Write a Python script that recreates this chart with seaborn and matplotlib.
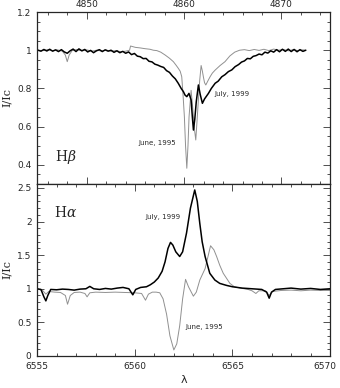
import numpy as np
import pandas as pd
import matplotlib
matplotlib.use("Agg")
import matplotlib.pyplot as plt
import matplotlib.transforms as mtransforms
from matplotlib.ticker import MultipleLocator, FixedLocator, FixedFormatter
import seaborn as sns

sns.set_style("ticks")
plt.rcParams['font.family'] = ['DejaVu Sans']
plt.rcParams['mathtext.fontset'] = 'dejavuserif'

#%% H-beta, July 1999 (black)
hb_wl_jul = [4845.0, 4845.3, 4845.6, 4845.9, 4846.2, 4846.5, 4846.8, 4847.1, 4847.4, 4847.7,
             4848.0, 4848.3, 4848.6, 4848.9, 4849.2, 4849.5, 4849.8, 4850.1, 4850.4, 4850.7,
             4851.0, 4851.3, 4851.6, 4851.9, 4852.2, 4852.5, 4852.8, 4853.1, 4853.4, 4853.7,
             4854.0, 4854.3, 4854.6, 4854.9, 4855.2, 4855.5, 4855.8, 4856.1, 4856.4, 4856.7,
             4857.0, 4857.3, 4857.6, 4857.9, 4858.2, 4858.5, 4858.8, 4859.1, 4859.4, 4859.7,
             4859.93, 4860.1, 4860.28, 4860.5, 4860.72, 4860.85, 4860.96, 4861.1, 4861.25, 4861.47,
             4861.65, 4861.88, 4862.1, 4862.5, 4862.8, 4863.19, 4863.5, 4863.87, 4864.2, 4864.55,
             4864.9, 4865.24, 4865.6, 4865.9, 4866.2, 4866.5, 4866.8, 4867.1, 4867.4, 4867.7,
             4868.0, 4868.3, 4868.6, 4868.9, 4869.2, 4869.5, 4869.8, 4870.1, 4870.4, 4870.7,
             4871.0, 4871.3, 4871.6, 4871.9, 4872.2, 4872.5]
hb_fl_jul = [1.000, 0.995, 1.004, 0.996, 1.005, 0.995, 1.002, 0.993, 1.003, 0.991,
             0.984, 0.997, 1.006, 0.993, 1.007, 0.997, 1.004, 0.991, 0.999, 0.987,
             0.997, 1.003, 0.993, 1.002, 0.995, 1.000, 0.989, 0.997, 0.987, 0.994,
             0.984, 0.991, 0.977, 0.983, 0.969, 0.966, 0.956, 0.957, 0.942, 0.939,
             0.927, 0.922, 0.915, 0.910, 0.893, 0.884, 0.865, 0.850, 0.827, 0.800,
             0.783, 0.765, 0.757, 0.774, 0.740, 0.650, 0.582, 0.640, 0.730, 0.818,
             0.770, 0.722, 0.745, 0.774, 0.800, 0.827, 0.838, 0.861, 0.872, 0.888,
             0.897, 0.914, 0.925, 0.938, 0.944, 0.957, 0.955, 0.968, 0.972, 0.980,
             0.976, 0.990, 0.985, 0.997, 0.990, 1.003, 0.992, 1.005, 0.994, 1.006,
             0.993, 1.004, 0.992, 1.003, 0.994, 1.000]

#%% H-beta, June 1995 (grey)
hb_wl_jun = [4845.0, 4845.5, 4846.0, 4846.5, 4847.0, 4847.5, 4847.8, 4848.0, 4848.2, 4848.5,
             4849.0, 4849.5, 4850.0, 4850.5, 4851.0, 4851.5, 4852.0, 4852.5, 4853.0, 4853.5,
             4854.0, 4854.4, 4854.5, 4855.0, 4855.5, 4856.0, 4856.5, 4856.85, 4857.2, 4857.6,
             4858.05, 4858.5, 4858.9, 4859.2, 4859.41, 4859.6, 4859.76, 4859.9, 4860.03, 4860.15,
             4860.28, 4860.4, 4860.51, 4860.72, 4860.85, 4860.96, 4861.08, 4861.2, 4861.33, 4861.47,
             4861.6, 4861.75, 4861.88, 4861.98, 4862.1, 4862.23, 4862.45, 4862.67, 4862.9, 4863.19,
             4863.7, 4864.2, 4864.7, 4865.2, 4865.7, 4866.2, 4866.7, 4867.2, 4867.7, 4868.2,
             4868.7, 4869.2, 4869.7, 4870.2, 4870.7, 4871.2, 4871.7, 4872.2, 4872.5]
hb_fl_jun = [1.000, 0.998, 1.003, 0.997, 1.002, 0.995, 0.975, 0.940, 0.975, 0.998,
             1.004, 0.996, 1.002, 0.995, 1.000, 0.996, 1.001, 0.995, 0.998, 0.992,
             0.995, 1.000, 1.022, 1.015, 1.012, 1.008, 1.005, 1.000, 0.998, 0.990,
             0.975, 0.958, 0.940, 0.920, 0.905, 0.890, 0.861, 0.760, 0.652, 0.500,
             0.382, 0.500, 0.652, 0.790, 0.720, 0.652, 0.580, 0.530, 0.630, 0.740,
             0.840, 0.920, 0.890, 0.861, 0.830, 0.818, 0.840, 0.861, 0.880, 0.896,
             0.920, 0.940, 0.970, 0.990, 1.000, 1.003, 0.998, 1.004, 0.999, 1.005,
             0.998, 1.006, 1.000, 1.004, 0.997, 1.003, 0.998, 1.002, 1.000]

#%% H-alpha, July 1999 (black)
ha_wl_jul = [6555.0, 6555.2, 6555.35, 6555.45, 6555.55, 6555.7, 6556.0, 6556.3, 6556.6, 6556.9,
             6557.2, 6557.5, 6557.7, 6557.9, 6558.2, 6558.5, 6558.8, 6559.1, 6559.4, 6559.7,
             6559.9, 6560.05, 6560.3, 6560.6, 6560.8, 6561.0, 6561.2, 6561.4, 6561.55, 6561.7,
             6561.83, 6561.95, 6562.1, 6562.3, 6562.45, 6562.65, 6562.85, 6563.07, 6563.2, 6563.33,
             6563.45, 6563.6, 6563.84, 6564.1, 6564.35, 6564.7, 6565.0, 6565.5, 6566.0, 6566.5,
             6566.75, 6566.88, 6567.0, 6567.2, 6567.6, 6568.0, 6568.5, 6569.0, 6569.5, 6570.0]
ha_fl_jul = [1.000, 0.990, 0.880, 0.820, 0.900, 0.990, 0.985, 0.995, 0.990, 0.980,
             0.995, 1.000, 1.035, 1.000, 0.990, 1.005, 0.995, 1.010, 1.020, 1.000,
             0.910, 0.990, 1.020, 1.030, 1.060, 1.100, 1.160, 1.260, 1.400, 1.600,
             1.690, 1.650, 1.550, 1.480, 1.550, 1.830, 2.200, 2.470, 2.300, 1.970,
             1.700, 1.480, 1.230, 1.130, 1.080, 1.050, 1.030, 1.010, 1.000, 0.990,
             0.950, 0.860, 0.950, 0.990, 1.000, 1.010, 0.995, 1.005, 0.990, 1.000]

#%% H-alpha, June 1995 (grey)
ha_wl_jun = [6555.0, 6555.3, 6555.45, 6555.6, 6555.9, 6556.2, 6556.45, 6556.56, 6556.7, 6556.9,
             6557.2, 6557.45, 6557.56, 6557.7, 6558.0, 6558.5, 6559.0, 6559.5, 6560.0, 6560.35,
             6560.55, 6560.7, 6560.9, 6561.1, 6561.28, 6561.45, 6561.63, 6561.8, 6562.0, 6562.15,
             6562.3, 6562.45, 6562.6, 6562.75, 6563.0, 6563.15, 6563.33, 6563.6, 6563.88, 6564.05,
             6564.19, 6564.35, 6564.53, 6564.87, 6565.1, 6565.4, 6565.8, 6566.0, 6566.2, 6566.35,
             6566.7, 6566.88, 6567.05, 6567.5, 6568.0, 6568.5, 6569.0, 6569.5, 6570.0]
ha_fl_jun = [1.000, 0.970, 0.920, 0.960, 0.950, 0.945, 0.900, 0.770, 0.900, 0.945,
             0.950, 0.930, 0.880, 0.940, 0.950, 0.945, 0.950, 0.945, 0.940, 0.930,
             0.830, 0.920, 0.950, 0.950, 0.940, 0.850, 0.620, 0.300, 0.090, 0.180,
             0.450, 0.850, 1.140, 1.030, 0.890, 0.950, 1.130, 1.300, 1.640, 1.580,
             1.480, 1.350, 1.230, 1.080, 1.030, 1.010, 0.990, 0.970, 0.930, 0.970,
             0.970, 0.900, 0.960, 0.975, 0.980, 0.970, 0.980, 0.975, 0.975]

hb = pd.concat([pd.DataFrame({'wl': hb_wl_jul, 'flux': hb_fl_jul, 'epoch': 'July, 1999'}),
                pd.DataFrame({'wl': hb_wl_jun, 'flux': hb_fl_jun, 'epoch': 'June, 1995'})])
ha = pd.concat([pd.DataFrame({'wl': ha_wl_jul, 'flux': ha_fl_jul, 'epoch': 'July, 1999'}),
                pd.DataFrame({'wl': ha_wl_jun, 'flux': ha_fl_jun, 'epoch': 'June, 1995'})])

pal = {'July, 1999': '#000000', 'June, 1995': '#909090'}
widths = {'July, 1999': 1.1, 'June, 1995': 0.7}

fig = plt.figure(figsize=(3.4, 3.88), dpi=100)
ax1 = fig.add_axes([0.109, 0.526, 0.862, 0.443])
ax2 = fig.add_axes([0.109, 0.0825, 0.862, 0.4435])

for ax, df in [(ax1, hb), (ax2, ha)]:
    for ep in ['June, 1995', 'July, 1999']:
        sub = df[df.epoch == ep]
        sns.lineplot(data=sub, x='wl', y='flux', ax=ax, color=pal[ep], lw=widths[ep],
                     sort=False, estimator=None, legend=False)
    ax.set_xlabel('')
    ax.set_ylabel('I/Ic', family='DejaVu Serif', fontsize=8, labelpad=4)
    ax.tick_params(which='both', direction='in', top=True, right=True, width=0.6,
                   labelsize=6.5, color='#333333')
    ax.tick_params(which='major', length=5)
    ax.tick_params(which='minor', length=2.5)
    for s in ax.spines.values():
        s.set_linewidth(0.9)

# top panel
ax1.set_xlim(4844.9, 4875.0)
ax1.set_ylim(0.3, 1.2)
ax1.xaxis.set_major_locator(MultipleLocator(10))
ax1.xaxis.set_minor_locator(MultipleLocator(2))
ax1.tick_params(axis='x', labeltop=True, labelbottom=False, pad=2)
ax1.yaxis.set_major_locator(FixedLocator([0.4, 0.6, 0.8, 1.0, 1.2]))
ax1.yaxis.set_major_formatter(FixedFormatter(['0.4', '0.6', '0.8', '1', '1.2']))
ax1.yaxis.set_minor_locator(MultipleLocator(0.05))
ax1.tick_params(axis='y', pad=4)
ax1.text(4847.9, 0.44, r'H$\beta$', fontsize=10, family='DejaVu Serif', ha='center', va='center')
ax1.text(4857.2, 0.514, 'June, 1995', fontsize=5, ha='center', va='center')
ax1.text(4864.95, 0.771, 'July, 1999', fontsize=5, ha='center', va='center')

# bottom panel
ax2.set_xlim(6555, 6570)
ax2.set_ylim(0, 2.56)
ax2.xaxis.set_major_locator(FixedLocator([6555, 6560, 6565, 6570]))
ax2.xaxis.set_major_formatter(FixedFormatter(['6555', '6560', '6565', '6570']))
ax2.xaxis.set_minor_locator(MultipleLocator(1))
ax2.yaxis.set_major_locator(FixedLocator([0, 0.5, 1.0, 1.5, 2.0, 2.5]))
ax2.yaxis.set_major_formatter(FixedFormatter(['0', '0.5', '1', '1.5', '2', '2.5']))
ax2.yaxis.set_minor_locator(MultipleLocator(0.1))
ax2.tick_params(axis='x', pad=4)
ax2.tick_params(axis='y', pad=4)
ax2.set_xlabel('λ', fontsize=8, labelpad=3)
ax2.text(6556.47, 2.14, r'H$\alpha$', fontsize=10, family='DejaVu Serif', ha='center', va='center')
ax2.text(6561.44, 2.07, 'July, 1999', fontsize=5, ha='center', va='center')
ax2.text(6563.54, 0.43, 'June, 1995', fontsize=5, ha='center', va='center')

# last label sits a little inside the figure edge
last = ax2.get_xticklabels()[-1]
last.set_transform(last.get_transform() + mtransforms.ScaledTranslation(-4 / 72, 0, fig.dpi_scale_trans))

fig.savefig('out.png', dpi=100)
